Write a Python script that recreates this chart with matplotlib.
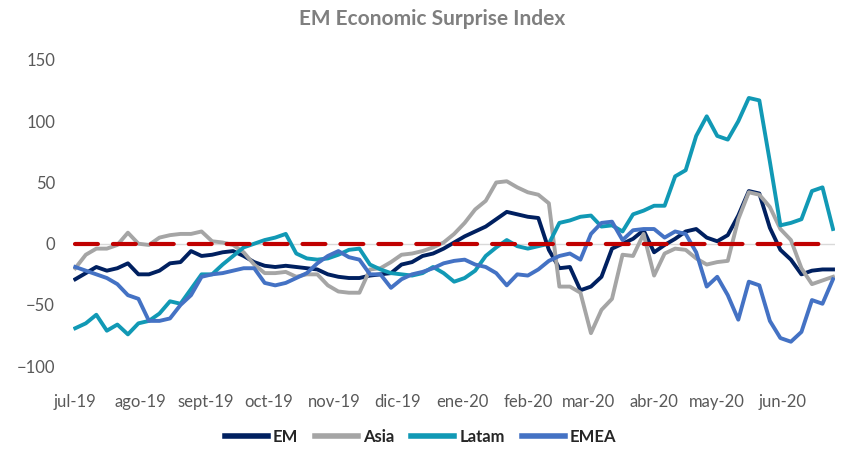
"""EM Economic Surprise Index - line chart"""

import pandas as pd
import matplotlib

matplotlib.use("Agg")
import matplotlib.pyplot as plt

plt.rcParams["font.family"] = ["Lato", "DejaVu Sans"]

# one reading every 5 days, 1 Jul 2019 -> 25 Jun 2020
DATES = pd.date_range("2019-07-01", periods=73, freq="5D")

EM = [-29, -24, -19, -22, -20, -16, -25, -25, -22, -16, -15, -6, -10,
      -9, -7, -6, -10, -15, -18, -19, -18, -19, -20, -21, -25, -27,
      -28, -28, -26, -25, -24, -17, -15, -10, -8, -4, 1, 6, 10,
      14, 20, 26, 24, 22, 21, -5, -20, -19, -38, -35, -27, -4,
      0, 4, 11, -7, -1, 4, 10, 12, 5, 2, 7, 23, 43, 41,
      13, -5, -13, -25, -22, -21, -21]

ASIA = [-20, -9, -4, -4, -1, 9, 0, -1, 5, 7, 8, 8, 10,
        2, 1, -1, -7, -17, -24, -24, -23, -27, -25, -25, -34, -39,
        -40, -40, -21, -20, -15, -9, -8, -6, -3, 1, 8, 17, 28,
        35, 50, 51, 46, 42, 40, 33, -35, -35, -40, -73, -54, -45,
        -9, -10, 8, -26, -8, -4, -5, -12, -17, -15, -14, 20, 42, 40,
        30, 12, 3, -20, -33, -30, -27]

LATAM = [-69, -65, -58, -71, -66, -74, -65, -63, -57, -47, -49, -37, -25,
         -25, -17, -10, -3, 0, 3, 5, 8, -8, -12, -13, -12, -9,
         -5, -4, -17, -21, -24, -25, -26, -24, -19, -24, -31, -28, -22,
         -10, -3, 3, -2, -4, -2, 0, 17, 19, 22, 23, 14, 15,
         10, 24, 27, 31, 31, 55, 60, 88, 104, 88, 85, 100, 119, 117,
         67, 15, 17, 20, 43, 46, 12]

EMEA = [-19, -22, -25, -28, -33, -42, -45, -63, -63, -61, -50, -42, -27,
        -25, -24, -22, -20, -20, -32, -34, -32, -28, -24, -16, -10, -6,
        -11, -13, -25, -25, -36, -29, -25, -23, -20, -16, -14, -13, -17,
        -19, -24, -34, -25, -26, -21, -14, -10, -8, -13, 8, 17, 18,
        3, 11, 12, 12, 5, 10, 8, -7, -35, -27, -42, -62, -31, -34,
        -63, -77, -80, -72, -46, -49, -29]

SERIES = ["EM", "Asia", "Latam", "EMEA"]
COLORS = ["#002060", "#A5A5A5", "#1199B5", "#4472C4"]

MONTH_LABELS = ["jul-19", "ago-19", "sept-19", "oct-19", "nov-19", "dic-19",
                "ene-20", "feb-20", "mar-20", "abr-20", "may-20", "jun-20"]
MONTHS = pd.date_range("2019-07-01", periods=12, freq="MS")

Y_TICKS = [-100, -50, 0, 50, 100, 150]


def draw_chart():
    """Draw the chart and save it"""
    fig = plt.figure(figsize=(8.41, 4.51), dpi=100)
    ax = fig.add_axes([0.087, 0.188, 0.906, 0.679])

    # horizontal axis line (crosses at zero)
    ax.axhline(0, color="#D9D9D9", lw=1.0, zorder=1)

    for name, values, color in zip(SERIES, [EM, ASIA, LATAM, EMEA], COLORS):
        ax.plot(DATES, values, color=color, lw=2.8, label=name,
                solid_joinstyle="round", zorder=2)

    ax.plot([DATES[0], DATES[-1]], [0, 0], color="#C00000", lw=3.0,
            dashes=(5.5, 3.6), dash_capstyle="round", zorder=3)

    ax.set_xlim(pd.Timestamp("2019-06-30"), pd.Timestamp("2020-06-26"))
    ax.set_ylim(-100, 150)
    ax.set_yticks(Y_TICKS)
    ax.set_xticks(MONTHS)
    ax.set_xticklabels(MONTH_LABELS)

    for side in ["top", "right", "bottom", "left"]:
        ax.spines[side].set_visible(False)
    ax.tick_params(axis="both", length=0, labelsize=12, colors="#595959")
    ax.tick_params(axis="x", pad=20)
    ax.tick_params(axis="y", pad=13)

    fig.text(0.514, 0.958, "EM Economic Surprise Index", ha="center",
             va="center", fontsize=15, fontweight="bold", color="#7F7F7F")

    leg = ax.legend(loc="center", bbox_to_anchor=(0.5, 0.031),
                    bbox_transform=fig.transFigure, ncol=4, frameon=False,
                    handlelength=2.6, handletextpad=0.3, columnspacing=1.0,
                    prop={"size": 12, "weight": "bold"})
    for line in leg.get_lines():
        line.set_linewidth(4)
    for text in leg.get_texts():
        text.set_color("#262626")

    fig.savefig("out.png", dpi=100)


if __name__ == "__main__":
    draw_chart()
